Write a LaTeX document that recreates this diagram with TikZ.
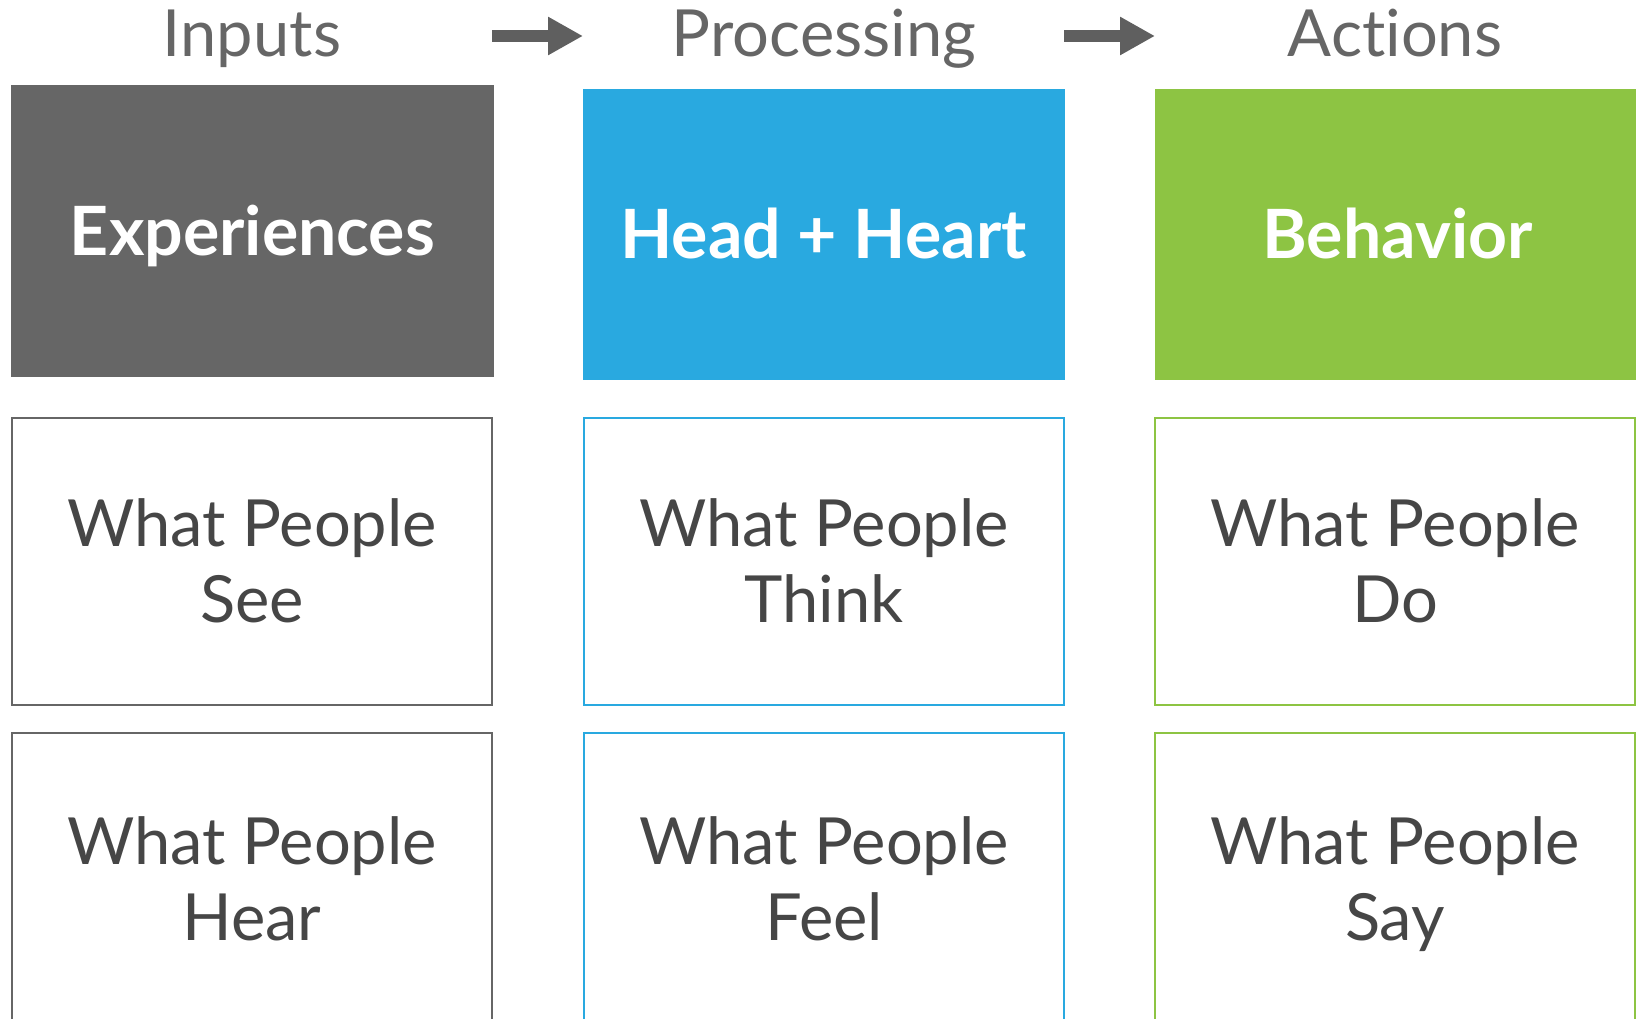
\documentclass[tikz,border=0pt]{standalone}
\usepackage{fontspec}
\setmainfont[Ligatures=NoCommon]{Lato}
\usetikzlibrary{arrows.meta}
\definecolor{cgray}{HTML}{666666}
\definecolor{cblue}{HTML}{29A9E0}
\definecolor{cgreen}{HTML}{8DC443}
\definecolor{ctext}{HTML}{464646}
\definecolor{carrow}{HTML}{5F5F5F}
\tikzset{
  heading/.style={anchor=base, text=cgray, font=\fontsize{65}{78}\selectfont, inner sep=0pt},
  titlebox/.style={fill=#1, draw=#1, line width=1pt, minimum width=481pt, minimum height=289pt,
    inner sep=0pt, text=white, text height=48pt, text depth=0pt,
    font=\fontsize{68}{76}\bfseries\selectfont},
  itembox/.style={draw=#1, fill=white, line width=2pt, minimum width=480pt, minimum height=287pt,
    inner sep=0pt, align=center, text=ctext, text depth=0pt,
    font=\fontsize{65}{76}\selectfont},
  flowarrow/.style={draw=carrow, line width=12pt, line cap=butt,
    -{Triangle[length=35pt, width=36pt]}}
}
\begin{document}
\begin{tikzpicture}[x=1pt,y=-1pt]
\useasboundingbox (0,0) rectangle (1636,1019);
\clip (0,0) rectangle (1636,1019);
% headings
\node[heading] (hin) at (252,57) {Inputs};
\node[heading] (hpr) at (824,57) {Processing};
\node[heading] (hac) at (1395,57) {Actions};
% arrows
\coordinate (a1s) at (492,36);
\coordinate (a1e) at (583,36);
\coordinate (a2s) at (1064,36);
\coordinate (a2e) at (1155,36);
\draw[flowarrow] (a1s) -- (a1e);
\draw[flowarrow] (a2s) -- (a2e);
% title boxes
\node[titlebox=cgray, minimum height=290pt, minimum width=482pt] (exp) at (252.5,231) {Experiences};
\node[titlebox=cblue] (hh) at (823.5,234.5) {Head + Heart};
\node[titlebox=cgreen, minimum width=485pt] (beh) at (1397.5,234.5) {Behavior};
% row 2
\node[itembox=cgray] (see) at (252,561) {What People\\See};
\node[itembox=cblue] (think) at (824,561) {What People\\Think};
\node[itembox=cgreen] (do) at (1395,561) {What People\\Do};
% row 3
\node[itembox=cgray, minimum height=292pt] (hear) at (252,878.5) {What People\\Hear};
\node[itembox=cblue, minimum height=292pt] (feel) at (824,878.5) {What People\\Feel};
\node[itembox=cgreen, minimum height=292pt] (say) at (1395,878.5) {What People\\Say};
\end{tikzpicture}
\end{document}
